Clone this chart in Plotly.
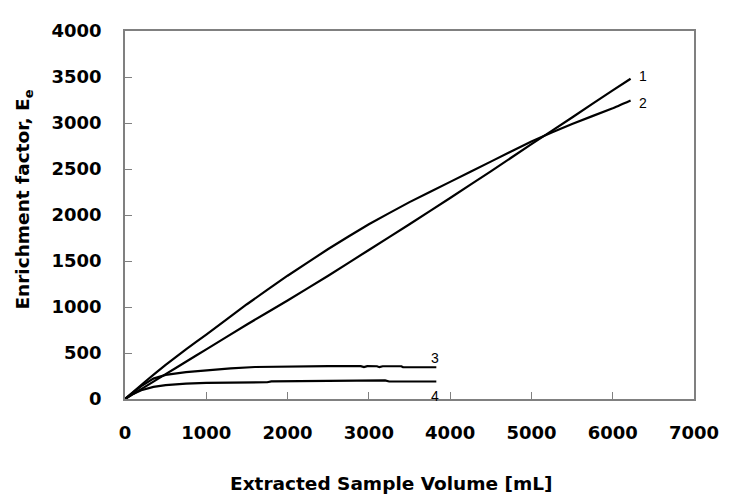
import plotly.graph_objects as go

# Curve 1 and 2 (extracted volume, mL) and enrichment factor
vol_12 = [0, 250, 500, 750, 1000, 1500, 2000, 2500, 3000, 3500, 4000, 4500, 5000, 5500, 6000, 6220]
ee_1 = [0, 135, 270, 405, 540, 810, 1070, 1340, 1620, 1900, 2185, 2475, 2770, 3060, 3355, 3481]
ee_2 = [0, 190, 370, 540, 700, 1030, 1340, 1630, 1900, 2140, 2360, 2580, 2800, 2990, 3160, 3245]

vol_3 = [0, 100, 200, 350, 500, 750, 1000, 1300, 1600, 2000, 2500, 2900, 2940, 2980, 3100, 3130, 3170, 3400, 3420, 3830]
ee_3 = [0, 75, 140, 222, 262, 292, 312, 332, 348, 355, 358, 357, 346, 357, 356, 346, 356, 356, 345, 345]

vol_4 = [0, 100, 200, 350, 500, 750, 1000, 1400, 1750, 1800, 2500, 3200, 3250, 3830]
ee_4 = [0, 55, 95, 131, 150, 168, 176, 180, 182, 192, 196, 202, 190, 190]

curve_labels = ["1", "2", "3", "4"]
label_x = [6372, 6368, 3817, 3817]
label_y = [3509, 3218, 451, 30]

x_ticks = [0, 1000, 2000, 3000, 4000, 5000, 6000, 7000]
y_ticks = [0, 500, 1000, 1500, 2000, 2500, 3000, 3500, 4000]

fig = go.Figure()
for xs, ys, shp in [(vol_12, ee_1, "spline"), (vol_12, ee_2, "spline"), (vol_3, ee_3, "linear"), (vol_4, ee_4, "linear")]:
    fig.add_trace(go.Scatter(x=xs, y=ys, mode="lines",
                             line=dict(color="black", width=2.2, shape=shp, smoothing=0.3) if shp == "spline"
                             else dict(color="black", width=2.2),
                             showlegend=False))

for t, lx, ly in zip(curve_labels, label_x, label_y):
    fig.add_annotation(x=lx, y=ly, text=t, showarrow=False,
                       font=dict(family="Liberation Sans, Arial", size=14, color="black"))

tickfont = dict(family="DejaVu Sans", size=18, color="black", weight="bold")

fig.update_layout(
    width=723, height=490,
    margin=dict(l=117, r=27, t=16, b=99),
    plot_bgcolor="white", paper_bgcolor="white",
    xaxis=dict(range=[0, 7000], tickvals=x_ticks, ticks="inside", ticklen=7, tickcolor="#808080",
               showline=True, linecolor="#808080", linewidth=1.5, mirror=True,
               showgrid=False, zeroline=False, tickfont=tickfont, ticklabelstandoff=17),
    yaxis=dict(range=[0, 4000], tickvals=y_ticks, ticks="inside", ticklen=7, tickcolor="#808080",
               showline=True, linecolor="#808080", linewidth=1.5, mirror=True,
               showgrid=False, zeroline=False, tickfont=tickfont, ticklabelstandoff=18),
)

fig.add_annotation(xref="paper", yref="paper", x=(396 - 125) / 579, y=-(485 - 399) / 375,
                   xanchor="center", yanchor="middle",
                   text="<b>Extracted Sample Volume [mL]</b>", showarrow=False,
                   font=dict(family="DejaVu Sans", size=18.5, color="black"))
fig.add_annotation(xref="paper", yref="paper", x=-(125 - 22) / 579, y=(399 - 196) / 375,
                   xanchor="center", yanchor="middle",
                   text="<b>Enrichment factor, E<sub>e</sub></b>", showarrow=False, textangle=-90,
                   font=dict(family="DejaVu Sans", size=18.5, color="black"))

fig.write_html("out.html")
